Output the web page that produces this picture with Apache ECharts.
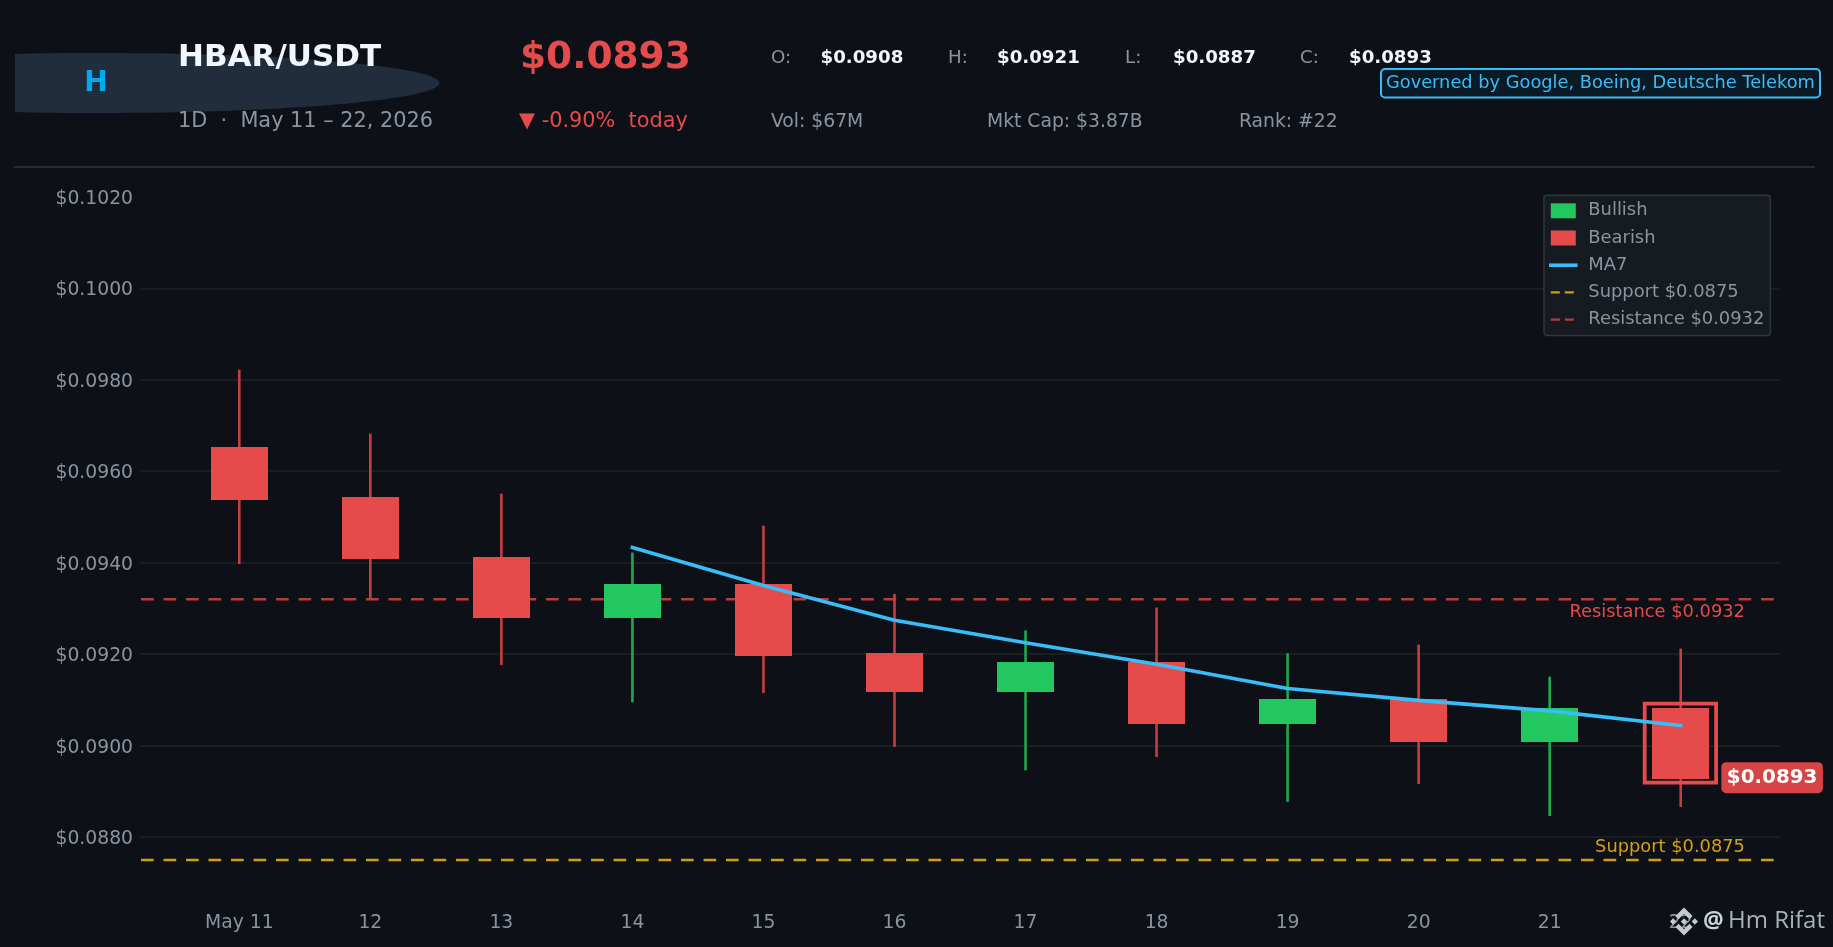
<!DOCTYPE html>
<html><head><meta charset="utf-8">
<style>html,body{margin:0;padding:0;background:#0d1117}#c{width:1833px;height:947px}</style>
<script src="https://cdn.jsdelivr.net/npm/echarts@6/dist/echarts.min.js"></script>
</head><body><div id="c"></div>
<script>
const categories = ['May 11','12','13','14','15','16','17','18','19','20','21','22'];
const xPositions = [0,1,2,3,4,5,6,7,8,9,10,11];
const opens  = [0.09652,0.09543,0.09412,0.09278,0.09353,0.09202,0.09117,0.09182,0.09047,0.09101,0.09007,0.09082];
const closes = [0.09538,0.09407,0.09278,0.09353,0.09197,0.09117,0.09182,0.09047,0.09101,0.09007,0.09082,0.08926];
const highs  = [0.09822,0.09682,0.09551,0.09422,0.09481,0.09332,0.09252,0.09302,0.09202,0.09221,0.09151,0.09212];
const lows   = [0.09397,0.09319,0.09176,0.09095,0.09115,0.08997,0.08946,0.08975,0.08877,0.08916,0.08846,0.08866];
const ma7    = [null,null,null,0.09433,0.0935,0.09274,0.09225,0.09178,0.09125,0.09099,0.09076,0.09044];
const yTicks = [0.0880,0.0900,0.0920,0.0940,0.0960,0.0980,0.1000,0.1020];
const supportLevel = 0.0875, resistanceLevel = 0.0932, lastPrice = 0.0893;
const xMin=-0.75, xMax=11.75, yMin=0.0868, yMax=0.1020;

const BG='#0d1117',RED='#e54b4b',GREEN='#22c85f',WICKR='#c53f41',WICKG='#1fa94f',BLUE='#38bdf8',GRAY='#8b949e';
const FF='"DejaVu Sans"';
const halfBody=0.2175;
const binance='M38.73 53.2l24.59-24.58 24.6 24.6 14.3-14.31L63.32 0 24.42 38.9l14.31 14.3zM0 63.31l14.3-14.31 14.31 14.31-14.31 14.3zM38.73 73.41l24.59 24.59 24.6-24.6 14.31 14.29-38.9 38.91-38.91-38.88-.01-.01 14.32-14.3zM98 63.31l14.3-14.31 14.31 14.3-14.31 14.31zM77.83 63.3L63.32 48.78 52.59 59.51l-1.24 1.23-2.54 2.54 14.51 14.5 14.51-14.47z';
function rows(up){return xPositions.filter(i=>(closes[i]>=opens[i])===up).map(i=>[i,opens[i],closes[i],lows[i],highs[i]]);}
function candle(wick,fill){return function(p,api){
  const x=api.value(0),o=api.value(1),c=api.value(2),l=api.value(3),h=api.value(4);
  const a=api.coord([x-halfBody,Math.max(o,c)]),b=api.coord([x+halfBody,Math.min(o,c)]);
  const t=api.coord([x,h]),u=api.coord([x,l]);
  const left=Math.round(a[0]),top=Math.round(a[1]);
  return {type:'group',children:[
    {type:'line',shape:{x1:t[0],y1:t[1],x2:u[0],y2:u[1]},style:{stroke:wick,lineWidth:2.6}},
    {type:'rect',shape:{x:left,y:top,width:Math.round(b[0]-a[0]),height:Math.round(b[1])-top},style:{fill:fill}}
  ]};
};}
function levelLine(name,level,color){return {name,type:'line',data:[[xMin,level],[xMax,level]],symbol:'none',silent:true,z:1,
  lineStyle:{color,width:2.4,type:[12.7,9.8]},itemStyle:{color}};}
function textMark(rows,style){return {type:'custom',silent:true,z:9,clip:false,data:rows,encode:{x:0,y:1},
  renderItem:(p,api)=>{const pt=api.coord([api.value(0),api.value(1)]);
    return {type:'text',x:pt[0],y:pt[1],style:Object.assign({text:rows[p.dataIndex][2]},style)};}};}

const option={
 backgroundColor:BG,animation:false,textStyle:{fontFamily:FF},
 grid:{left:141,right:54,top:196.8,bottom:947-892},
 xAxis:{type:'value',min:xMin,max:xMax,axisLine:{show:false},axisTick:{show:false,customValues:xPositions},splitLine:{show:false},
   axisLabel:{customValues:xPositions,color:GRAY,fontSize:18.75,fontFamily:FF,margin:21.5,hideOverlap:false,showMinLabel:true,showMaxLabel:true,formatter:v=>categories[Math.round(v)]}},
 yAxis:{type:'value',min:yMin,max:yMax,axisLine:{show:false},axisTick:{show:false,customValues:yTicks},
   splitLine:{show:true,showMaxLine:false,lineStyle:{color:'#1e2329',width:1.6}},
   axisLabel:{customValues:yTicks,color:GRAY,fontSize:18.75,fontFamily:FF,margin:8,verticalAlign:'top',lineHeight:4.6,formatter:v=>'$'+v.toFixed(4)}},
 legend:{orient:'vertical',left:1544,top:195.3,padding:[6.5,6,7,5],itemGap:9.2,itemWidth:25,itemHeight:15,
   backgroundColor:'#161b22',borderColor:'#30363d',borderWidth:1.5,borderRadius:3,
   textStyle:{color:GRAY,fontSize:17.9,fontFamily:FF,padding:[2.5,0,0,7.5]},
   data:[{name:'Bullish',icon:'rect'},{name:'Bearish',icon:'rect'},{name:'MA7',itemStyle:{opacity:0},lineStyle:{width:3.6}},
         {name:'Support $0.0875',itemStyle:{opacity:0},lineStyle:{type:[9,5],width:2.4}},{name:'Resistance $0.0932',itemStyle:{opacity:0},lineStyle:{type:[9,5],width:2.4}}]},
 graphic:[
  {type:'ellipse',shape:{cx:96.4,cy:83,rx:343,ry:30},style:{fill:'#212d3d'},z:0},
  {type:'rect',shape:{x:0,y:40,width:15,height:90},style:{fill:BG},z:0},
  {type:'text',x:96,y:84,style:{text:'H',fill:'#00aaf0',font:'bold 28px '+FF,align:'center',verticalAlign:'middle'},z:1},
  {type:'text',x:178,y:58,style:{text:'HBAR/USDT',fill:'#f0f6fc',font:'bold 31px '+FF,verticalAlign:'middle'},z:1},
  {type:'text',x:178,y:122,style:{text:'1D  ·  May 11 – 22, 2026',fill:GRAY,font:'20.83px '+FF,verticalAlign:'middle'},z:1},
  {type:'text',x:520,y:58.5,style:{text:'$0.0893',fill:RED,font:'bold 37.5px '+FF,verticalAlign:'middle'},z:1},
  {type:'text',x:519,y:122,style:{text:'▼ -0.90%  today',fill:RED,font:'20.83px '+FF,verticalAlign:'middle'},z:1},
  ...[['O:','$0.0908',771,820.5],['H:','$0.0921',948,997],['L:','$0.0887',1125,1173],['C:','$0.0893',1300,1349]].flatMap(r=>[
    {type:'text',x:r[2],y:58,style:{text:r[0],fill:GRAY,font:'18.2px '+FF,verticalAlign:'middle'},z:1},
    {type:'text',x:r[3],y:58,style:{text:r[1],fill:'#f0f6fc',font:'bold 18.2px '+FF,verticalAlign:'middle'},z:1}]),
  {type:'text',x:771,y:122,style:{text:'Vol: $67M',fill:GRAY,font:'18.75px '+FF,verticalAlign:'middle'},z:1},
  {type:'text',x:987,y:122,style:{text:'Mkt Cap: $3.87B',fill:GRAY,font:'18.75px '+FF,verticalAlign:'middle'},z:1},
  {type:'text',x:1239,y:122,style:{text:'Rank: #22',fill:GRAY,font:'18.75px '+FF,verticalAlign:'middle'},z:1},
  {type:'rect',shape:{x:1381,y:69,width:439,height:28.5,r:4},style:{fill:'#0c1a26',stroke:BLUE,lineWidth:2},z:1},
  {type:'text',x:1386,y:83,style:{text:'Governed by Google, Boeing, Deutsche Telekom',fill:BLUE,font:'17.8px '+FF,verticalAlign:'middle'},z:2},
  {type:'line',shape:{x1:14,y1:167,x2:1815,y2:167},style:{stroke:'#30363d',lineWidth:1.6},z:1},
  {type:'text',x:1703,y:921,style:{text:'@',fill:'#c9d1d9',font:'bold 23px "Open Sans"',verticalAlign:'middle'},z:20},
  {type:'text',x:1728,y:921,style:{text:'Hm Rifat',fill:'#a9b1b9',font:'24px "Open Sans"',verticalAlign:'middle'},z:20}
 ],
 series:[
  levelLine('Support $0.0875',supportLevel,'#d29e10'),
  levelLine('Resistance $0.0932',resistanceLevel,'#b83c3e'),
  {name:'Bullish',type:'custom',z:3,silent:true,data:rows(true),encode:{x:0,y:[1,2,3,4]},itemStyle:{color:GREEN},renderItem:candle(WICKG,GREEN)},
  {name:'Bearish',type:'custom',z:3,silent:true,data:rows(false),encode:{x:0,y:[1,2,3,4]},itemStyle:{color:RED},renderItem:candle(WICKR,RED)},
  {type:'custom',z:4,silent:true,data:[[xPositions[11],opens[11],closes[11]]],encode:{x:0,y:[1,2]},
    renderItem:(p,api)=>{const x=api.value(0),a=api.coord([x-0.275,api.value(1)+0.0001]),b=api.coord([x+0.27,api.value(2)-0.00007]);
      return {type:'rect',shape:{x:a[0],y:a[1],width:b[0]-a[0],height:b[1]-a[1]},style:{fill:'none',stroke:RED,lineWidth:3.8}};}},
  {name:'MA7',type:'line',z:5,data:xPositions.map(i=>[i,ma7[i]]),symbol:'none',silent:true,connectNulls:false,
    lineStyle:{color:BLUE,width:3.6,cap:'square'},itemStyle:{color:BLUE}},
  textMark([[11.49,0.09292,'Resistance $0.0932']],{fill:RED,font:'17.84px '+FF,align:'right',verticalAlign:'middle'}),
  textMark([[11.49,0.08778,'Support $0.0875']],{fill:'#d4a017',font:'17.84px '+FF,align:'right',verticalAlign:'middle'}),
  textMark([[11.31,lastPrice,'$0.0893']],{fill:'#ffffff',font:'bold 19.9px '+FF,align:'left',verticalAlign:'middle',backgroundColor:'#d64545',borderRadius:5,padding:[5.5,5.5,5.5,5.5]}),
  {type:'custom',coordinateSystem:'none',silent:true,z:20,data:[[0]],encode:{},
    renderItem:()=>({type:'path',shape:{pathData:binance,layout:'center',x:1670,y:907.5,width:28,height:28},style:{fill:'#c4cad0'}})}
 ]
};
echarts.init(document.getElementById('c'),null,{renderer:'canvas'}).setOption(option);
</script></body></html>
